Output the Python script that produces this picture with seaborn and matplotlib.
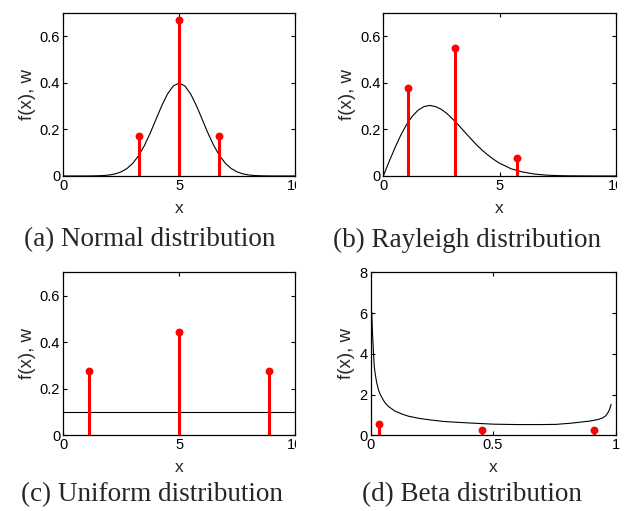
import matplotlib
matplotlib.use("Agg")
import matplotlib.pyplot as plt
from matplotlib.transforms import Bbox, TransformedBbox
import seaborn as sns
import pandas as pd

# curves
normal_x = [0, 1, 1.25, 1.5, 1.75, 2, 2.25, 2.5, 2.75, 3, 3.25, 3.5, 3.75, 4, 4.25, 4.5, 4.75, 5,
            5.25, 5.5, 5.75, 6, 6.25, 6.5, 6.75, 7, 7.25, 7.5, 7.75, 8, 8.25, 8.5, 8.75, 9, 10]
normal_y = [0, 0.0001, 0.0004, 0.0009, 0.002, 0.0044, 0.0091, 0.0175, 0.0317, 0.054, 0.0863, 0.1295,
            0.1826, 0.242, 0.3011, 0.3521, 0.3867, 0.3989,
            0.3867, 0.3521, 0.3011, 0.242, 0.1826, 0.1295, 0.0863, 0.054, 0.0317, 0.0175, 0.0091,
            0.0044, 0.002, 0.0009, 0.0004, 0.0001, 0]

rayleigh_x = [0, 0.25, 0.5, 0.75, 1, 1.25, 1.5, 1.75, 2, 2.25, 2.5, 2.75, 3, 3.25, 3.5, 3.75, 4,
              4.25, 4.5, 4.75, 5, 5.5, 6, 6.5, 7, 7.5, 8, 9, 10]
rayleigh_y = [0, 0.062, 0.121, 0.175, 0.221, 0.257, 0.283, 0.298, 0.303, 0.298, 0.286, 0.267, 0.243,
              0.217, 0.189, 0.162, 0.135, 0.111, 0.09, 0.071, 0.055, 0.031, 0.017, 0.0083, 0.0038,
              0.0016, 0.0007, 0.0001, 0]

uniform_x = [0, 10]
uniform_y = [0.1, 0.1]

beta_x = [0.005, 0.008, 0.012, 0.015, 0.02, 0.025, 0.032, 0.04, 0.05, 0.059, 0.075, 0.1, 0.13, 0.155,
          0.2, 0.25, 0.3, 0.386, 0.5, 0.6, 0.7, 0.758, 0.82, 0.894, 0.93, 0.948, 0.96, 0.969, 0.976, 0.982]
beta_y = [6.05, 5.0, 4.1, 3.4, 2.95, 2.6, 2.25, 2.0, 1.78, 1.6, 1.4, 1.19, 1.04, 0.94,
          0.83, 0.75, 0.68, 0.62, 0.55, 0.53, 0.53, 0.54, 0.6, 0.7, 0.78, 0.86, 0.96, 1.11, 1.28, 1.52]

# quadrature points / weights
normal_pts = [3.27, 5.0, 6.73]
normal_w = [0.17, 0.67, 0.17]
rayleigh_pts = [1.05, 3.09, 5.75]
rayleigh_w = [0.378, 0.55, 0.078]
uniform_pts = [1.12, 5.0, 8.88]
uniform_w = [0.277, 0.443, 0.275]
beta_pts = [0.034, 0.456, 0.914]
beta_w = [0.54, 0.26, 0.26]

captions = ["(a) Normal distribution", "(b) Rayleigh distribution",
            "(c) Uniform distribution", "(d) Beta distribution"]

sns.set_style("ticks")
plt.rcParams['font.family'] = ['Liberation Sans', 'DejaVu Sans']

fig = plt.figure(figsize=(6.24, 5.11), dpi=100)

panels = [
    ([0.101, 0.6556, 0.372, 0.319], normal_x, normal_y, normal_pts, normal_w),
    ([0.6143, 0.6556, 0.3724, 0.319], rayleigh_x, rayleigh_y, rayleigh_pts, rayleigh_w),
    ([0.101, 0.148, 0.372, 0.319], uniform_x, uniform_y, uniform_pts, uniform_w),
    ([0.5938, 0.148, 0.3926, 0.319], beta_x, beta_y, beta_pts, beta_w),
]

axes = []
for i, (pos, cx, cy, px, pw) in enumerate(panels):
    ax = fig.add_axes(pos)
    curve = pd.DataFrame({"x": cx, "y": cy})
    sns.lineplot(data=curve, x="x", y="y", ax=ax, color="black", linewidth=0.8)
    ax.vlines(px, 0, pw, color="red", linewidth=2.2, zorder=3)
    pts = pd.DataFrame({"x": px, "w": pw})
    sns.scatterplot(data=pts, x="x", y="w", ax=ax, color="red", s=32,
                    edgecolor="red", linewidth=0, zorder=4, clip_on=False)
    if i < 3:
        ax.set_xlim(0, 10)
        ax.set_ylim(0, 0.7)
        ax.set_xticks([0, 5, 10])
        ax.set_xticklabels(["0", "5", "10"])
        ax.set_yticks([0, 0.2, 0.4, 0.6])
        ax.set_yticklabels(["0", "0.2", "0.4", "0.6"])
    else:
        ax.set_xlim(0, 1)
        ax.set_ylim(0, 8)
        ax.set_xticks([0, 0.5, 1])
        ax.set_xticklabels(["0", "0.5", "1"])
        ax.set_yticks([0, 2, 4, 6, 8])
        ax.set_yticklabels(["0", "2", "4", "6", "8"])
    ax.tick_params(direction="in", top=True, right=True, length=3, width=0.8,
                   labelsize=10.5, pad=2, colors="black")
    for s in ax.spines.values():
        s.set_linewidth(0.9)
        s.set_color("black")
    ax.set_xlabel("x", fontsize=12.5, labelpad=6)
    ax.set_ylabel("f(x), w", fontsize=13.5, labelpad=3)
    axes.append(ax)

# captions
cap_pos = [(0.2396, 240), (0.749, 240), (0.244, 495), (0.757, 495)]
for (cx, cy), txt in zip(cap_pos, captions):
    fig.text(cx, 1 - cy / 511, txt, ha="center", va="center",
             fontsize=19.5, family="Liberation Serif")

# the "10" labels get cut off at the panel edge in the original
for ax in axes[:3]:
    box = TransformedBbox(Bbox.from_extents(-0.3, -0.5, 1.005, 1.2), ax.transAxes)
    for lab in ax.get_xticklabels():
        lab.set_clip_on(True)
        lab.set_clip_box(box)

fig.savefig("out.png", dpi=100)
